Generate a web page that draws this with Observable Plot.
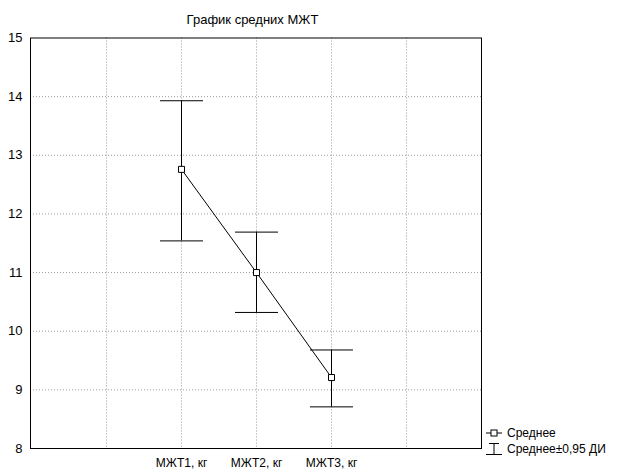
<!DOCTYPE html>
<html><head><meta charset="utf-8">
<script src="https://cdn.jsdelivr.net/npm/d3@7"></script>
<script src="https://cdn.jsdelivr.net/npm/@observablehq/plot@0.6"></script>
<style>
body{margin:0;background:#fff;font-family:"Liberation Sans",Arial,sans-serif;color:#000;}
#wrap{position:relative;width:623px;height:469px;}
#title{position:absolute;left:0;width:505px;top:12px;text-align:center;font-size:13px;}
#legend{position:absolute;left:485px;top:425px;font-size:12px;line-height:16px;}
#legend div{display:flex;align-items:center;height:16px;}
#legend svg{margin-right:4px;}
</style></head><body>
<div id="wrap">
<div id="title">График средних МЖТ</div>
<div id="legend">
<div><svg width="18" height="12"><line x1="1" y1="6" x2="17" y2="6" stroke="#000"/><rect x="6" y="3" width="6" height="6" fill="#fff" stroke="#000"/></svg>Среднее</div>
<div><svg width="18" height="14"><line x1="4" y1="1.5" x2="14" y2="1.5" stroke="#000"/><line x1="9" y1="1.5" x2="9" y2="12.5" stroke="#000"/><line x1="1" y1="12.5" x2="17" y2="12.5" stroke="#000"/></svg>Среднее±0,95 ДИ</div>
</div>
</div>
<script>
const categories = ["МЖТ1, кг", "МЖТ2, кг", "МЖТ3, кг"];
const means = [12.76, 11.00, 9.21];
const lower = [11.54, 10.32, 8.71];
const upper = [13.93, 11.69, 9.68];
const yTicks = [8, 9, 10, 11, 12, 13, 14, 15];
const padBefore = ["_p0", "_p1"];
const padAfter = ["_p5", "_p6"];

const xDomain = [...padBefore, ...categories, ...padAfter];
const data = categories.map((c, i) => ({cat: c, mean: means[i], lo: lower[i], hi: upper[i]}));

const capSymbol = {draw(ctx) { ctx.moveTo(-21.5, 0); ctx.lineTo(21.5, 0); }};

const chart = Plot.plot({
  width: 623,
  height: 469,
  marginLeft: 30,
  marginRight: 142,
  marginTop: 37.5,
  marginBottom: 21,
  style: {fontFamily: "'Liberation Sans', Arial, sans-serif", fontSize: "12px", background: "transparent", color: "#000"},
  x: {type: "point", domain: xDomain, padding: 0, label: null},
  y: {domain: [8, 15], label: null},
  marks: [
    Plot.gridY(yTicks.slice(1, -1), {stroke: "#999", strokeOpacity: 1, strokeDasharray: "1,2"}),
    Plot.gridX(xDomain.slice(1, -1), {stroke: "#999", strokeOpacity: 1, strokeDasharray: "1,2"}),
    Plot.frame({stroke: "#000", strokeWidth: 1}),
    Plot.axisY(yTicks, {tickSize: 0, tickPadding: 8, fontSize: 13, tickFormat: "d"}),
    Plot.axisX(categories, {tickSize: 0, tickPadding: 10, fontSize: 12}),
    Plot.ruleX(data, {x: "cat", y1: "lo", y2: "hi", stroke: "#000", strokeWidth: 1}),
    Plot.dot(data, {x: "cat", y: "hi", symbol: capSymbol, fill: "none", stroke: "#000", strokeWidth: 1}),
    Plot.dot(data, {x: "cat", y: "lo", symbol: capSymbol, fill: "none", stroke: "#000", strokeWidth: 1}),
    Plot.line(data, {x: "cat", y: "mean", stroke: "#000", strokeWidth: 1}),
    Plot.dot(data, {x: "cat", y: "mean", symbol: "square", r: 3.4, fill: "#fff", stroke: "#000", strokeWidth: 1})
  ]
});
chart.style.position = "absolute";
chart.style.left = "0";
chart.style.top = "0";
document.getElementById("wrap").prepend(chart);
</script>
</body></html>
